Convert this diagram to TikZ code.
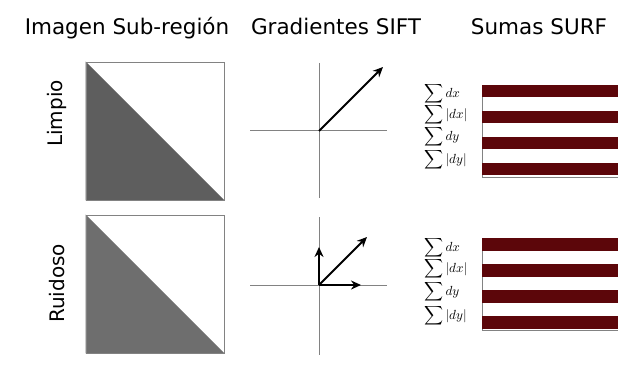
\documentclass[tikz,border=0pt]{standalone}
\usepackage{fontspec}
\setmainfont{DejaVu Sans}
\usetikzlibrary{arrows.meta}
\definecolor{maroon}{RGB}{92,6,10}
\definecolor{axisgray}{RGB}{130,130,130}
\definecolor{fillA}{RGB}{94,94,94}
\definecolor{fillB}{RGB}{110,110,110}
\begin{document}
\begin{tikzpicture}[x=1pt,y=-1pt,
  title/.style={font=\fontsize{21.5}{24}\selectfont, inner sep=0pt, anchor=base},
  rowlabel/.style={font=\fontsize{20}{22}\selectfont, rotate=90, inner sep=0pt},
  sq/.style={draw=axisgray, line width=0.9pt, minimum size=138pt, inner sep=0pt},
  axisline/.style={draw=axisgray, line width=1pt},
  vec/.style={draw=black, line width=2pt, -{Stealth[length=10pt,width=9pt]}},
  surf/.style={font=\fontsize{10}{12}\selectfont, scale=1.32, inner sep=0pt, anchor=west},
  band/.style={fill=maroon},
  bandbox/.style={draw=axisgray, line width=0.8pt, inner sep=0pt, minimum width=136pt}
]
\useasboundingbox (0,0) rectangle (618,385);
% titles
\node[title] (t1) at (127,35) {Imagen Sub-región};
\node[title] (t2) at (336,35) {Gradientes SIFT};
\node[title] (t3) at (539,35) {Sumas SURF};
% row labels
\node[rowlabel] (l1) at (57,113.5) {Limpio};
\node[rowlabel] (l2) at (57,283.5) {Ruidoso};
% squares
\node[sq] (s1) at (155,131) {};
\fill[fillA] (s1.north west) -- (s1.south west) -- (s1.south east) -- cycle;
\node[sq] (s2) at (155,284) {};
\fill[fillB] (s2.north west) -- (s2.south west) -- (s2.south east) -- cycle;
\node[sq, fill=none] at (s1) {};
\node[sq, fill=none] at (s2) {};
% SIFT top
\coordinate (o1) at (319,131);
\coordinate (v1t) at (319,63);
\coordinate (v1b) at (319,198);
\coordinate (h1l) at (250,131);
\coordinate (h1r) at (387,131);
\coordinate (a1) at (383,67);
\draw[axisline] (v1t) -- (v1b);
\draw[axisline] (h1l) -- (h1r);
\draw[vec] (o1) -- (a1);
% SIFT bottom
\coordinate (o2) at (319,285);
\coordinate (v2t) at (319,217);
\coordinate (v2b) at (319,355);
\coordinate (h2l) at (250,285);
\coordinate (h2r) at (387,285);
\coordinate (a2) at (367,237);
\coordinate (a3) at (319,247);
\coordinate (a4) at (361,285);
\draw[axisline] (v2t) -- (v2b);
\draw[axisline] (h2l) -- (h2r);
\draw[vec] (o2) -- (a2);
\draw[vec] (o2) -- (a3);
\draw[vec] (o2) -- (a4);
% SURF top
\node[bandbox, minimum height=92pt] (b1) at (550,131) {};
\foreach \i in {0,...,3}{
  \fill[band] ([yshift=-26*\i pt]b1.north west) rectangle ([yshift=-26*\i pt-12.5pt]b1.north east);
}
\node[surf] (p1) at (424,94) {$\displaystyle\sum dx$};
\node[surf] (p2) at (424,115) {$\displaystyle\sum |dx|$};
\node[surf] (p3) at (424,137) {$\displaystyle\sum dy$};
\node[surf] (p4) at (424,160) {$\displaystyle\sum |dy|$};
% SURF bottom
\node[bandbox, minimum height=92pt] (b2) at (550,284) {};
\foreach \i in {0,...,3}{
  \fill[band] ([yshift=-26*\i pt]b2.north west) rectangle ([yshift=-26*\i pt-13pt]b2.north east);
}
\node[surf] (q1) at (424,248) {$\displaystyle\sum dx$};
\node[surf] (q2) at (424,269) {$\displaystyle\sum |dx|$};
\node[surf] (q3) at (424,292) {$\displaystyle\sum dy$};
\node[surf] (q4) at (424,316) {$\displaystyle\sum |dy|$};
\end{tikzpicture}
\end{document}
